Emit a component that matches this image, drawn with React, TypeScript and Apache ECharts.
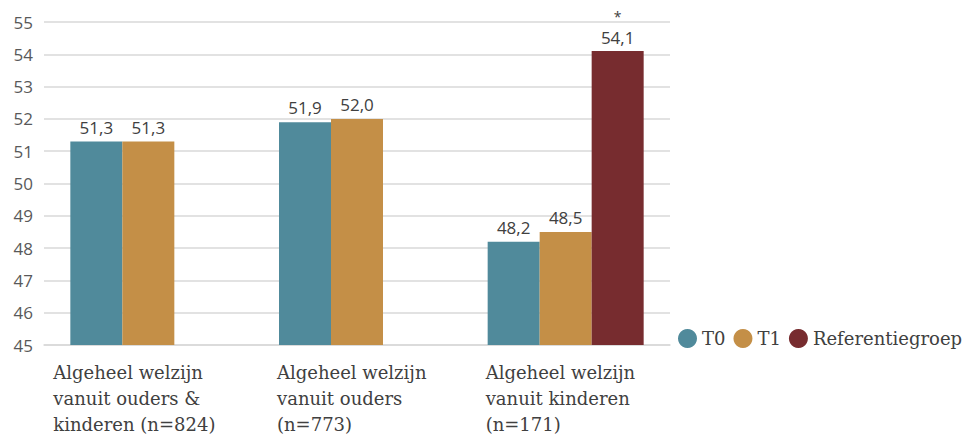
import React, { useEffect, useRef } from "react";
import * as echarts from "echarts";

const categories = [
  "Algeheel welzijn\nvanuit ouders &\nkinderen (n=824)",
  "Algeheel welzijn\nvanuit ouders\n(n=773)",
  "Algeheel welzijn\nvanuit kinderen\n(n=171)",
];
const seriesNames = ["T0", "T1", "Referentiegroep"];
const t0Values = [51.3, 51.9, 48.2];
const t1Values = [51.3, 52.0, 48.5];
const refValues: (number | null)[] = [null, null, 54.1];
const refMarks = ["", "", "*"];
const yTicks = { min: 45, max: 55, interval: 1 };

const colors = ["#508A9B", "#C48F47", "#772C2F"];
const serif = "DejaVu Serif";
const sans = "Open Sans";

const fmt = (v: number) => v.toFixed(1).replace(".", ",");

export default function App() {
  const ref = useRef<HTMLDivElement>(null);
  useEffect(() => {
    if (!ref.current) return;
    const chart = echarts.init(ref.current, undefined, { renderer: "svg" });
    const labelWidths = [190, 160, 160];
    const rich: Record<string, any> = {};
    labelWidths.forEach((w, i) => {
      rich["c" + i] = {
        width: w,
        align: "left",
        fontFamily: serif,
        fontSize: 18,
        lineHeight: 26,
        color: "#404040",
      };
    });
    const dataLabel = {
      show: true,
      position: "top",
      distance: 6,
      fontFamily: sans,
      fontSize: 17,
      color: "#404040",
      formatter: (p: any) => fmt(p.value),
    };
    chart.setOption({
      animation: false,
      grid: { left: 44, right: 296, top: 22, bottom: 89, containLabel: false },
      legend: {
        left: 673,
        top: 324,
        width: 300,
        itemWidth: 19,
        itemHeight: 19,
        itemGap: 8,
        icon: "circle",
        data: seriesNames,
        textStyle: { fontFamily: serif, fontSize: 18, color: "#404040" },
      },
      xAxis: {
        type: "category",
        data: categories,
        axisTick: { show: false },
        axisLine: { lineStyle: { color: "#d9d9d9", width: 1.5 } },
        axisLabel: {
          interval: 0,
          margin: 14,
          fontFamily: serif,
          fontSize: 18,
          formatter: (v: string) => {
            const i = categories.indexOf(v);
            return v
              .split("\n")
              .map((l) => `{c${i}|${l}}`)
              .join("\n");
          },
          rich,
        },
      },
      yAxis: {
        type: "value",
        min: yTicks.min,
        max: yTicks.max,
        interval: yTicks.interval,
        axisLine: { show: false },
        axisTick: { show: false },
        splitLine: { lineStyle: { color: "#d9d9d9", width: 1.5 } },
        axisLabel: { fontFamily: sans, fontSize: 17, color: "#595959", margin: 11 },
      },
      series: [
        {
          name: seriesNames[0],
          type: "bar",
          data: t0Values,
          barWidth: 52,
          barGap: "0%",
          itemStyle: { color: colors[0] },
          label: dataLabel,
        },
        {
          name: seriesNames[1],
          type: "bar",
          data: t1Values,
          barWidth: 52,
          barGap: "0%",
          itemStyle: { color: colors[1] },
          label: dataLabel,
        },
        {
          name: seriesNames[2],
          type: "bar",
          data: refValues,
          barWidth: 52,
          barGap: "0%",
          itemStyle: { color: colors[2] },
          label: {
            ...dataLabel,
            distance: 3,
            formatter: (p: any) => {
              const m = refMarks[p.dataIndex];
              return (m ? `{s|${m}}\n` : "") + `{v|${fmt(p.value)}}`;
            },
            rich: {
              s: { fontFamily: sans, fontSize: 14, color: "#404040", lineHeight: 20 },
              v: { fontFamily: sans, fontSize: 17, color: "#404040", lineHeight: 22 },
            },
          },
        },
      ],
    });
    return () => chart.dispose();
  }, []);
  return (
    <div
      ref={ref}
      style={{ position: "fixed", left: 0, top: 0, width: 966, height: 434, background: "#fff" }}
    />
  );
}
